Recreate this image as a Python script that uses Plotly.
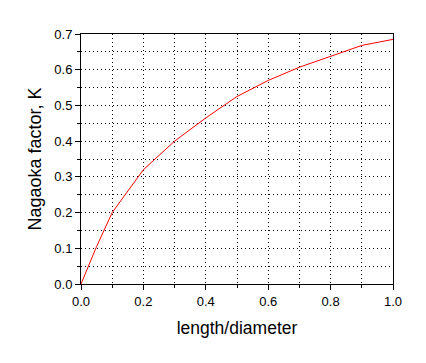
import plotly.graph_objects as go

length_diameter = [0.0, 0.05, 0.1, 0.2, 0.3, 0.4, 0.5, 0.6, 0.7, 0.8, 0.9, 1.0]
nagaoka_k = [0.0, 0.105, 0.2, 0.32, 0.4, 0.465, 0.525, 0.57, 0.607, 0.638, 0.668, 0.685]

x_ticks = [0.0, 0.2, 0.4, 0.6, 0.8, 1.0]
x_tick_labels = ["0.0", "0.2", "0.4", "0.6", "0.8", "1.0"]
y_ticks = [0.0, 0.1, 0.2, 0.3, 0.4, 0.5, 0.6, 0.7]
y_tick_labels = ["0.0", "0.1", "0.2", "0.3", "0.4", "0.5", "0.6", "0.7"]

fig = go.Figure()
fig.add_trace(go.Scatter(x=length_diameter, y=nagaoka_k, mode="lines",
                         line=dict(color="red", width=1), showlegend=False))

font = "Liberation Sans, Arial, sans-serif"
grid_dash = "1px,3px"
fig.update_layout(
    width=426, height=363,
    margin=dict(l=81, r=33, t=34, b=79),
    paper_bgcolor="white", plot_bgcolor="white",
    font=dict(family=font, color="black", size=13),
)
fig.update_xaxes(
    range=[0, 1], tickvals=x_ticks, ticktext=x_tick_labels,
    ticks="outside", ticklen=5, tickcolor="black", tickwidth=1,
    showline=True, linecolor="black", linewidth=1, mirror=True,
    showgrid=True, gridcolor="black", griddash=grid_dash, gridwidth=1,
    minor=dict(dtick=0.1, showgrid=True, gridcolor="black", griddash=grid_dash,
               ticks="outside", ticklen=3, tickcolor="black"),
    zeroline=False,
    tickfont=dict(size=13, color="black"),
    title=dict(text="length/diameter", font=dict(size=17.5), standoff=14),
)
fig.update_yaxes(
    range=[0, 0.7], tickvals=y_ticks, ticktext=y_tick_labels,
    ticks="outside", ticklen=5, tickcolor="black", tickwidth=1,
    showline=True, linecolor="black", linewidth=1, mirror=True,
    showgrid=True, gridcolor="black", griddash=grid_dash, gridwidth=1,
    minor=dict(dtick=0.05, showgrid=True, gridcolor="black", griddash=grid_dash,
               ticks="outside", ticklen=3, tickcolor="black"),
    zeroline=False,
    tickfont=dict(size=13, color="black"),
    title=dict(text="Nagaoka factor, K", font=dict(size=18), standoff=8),
)
fig.write_html("out.html")
